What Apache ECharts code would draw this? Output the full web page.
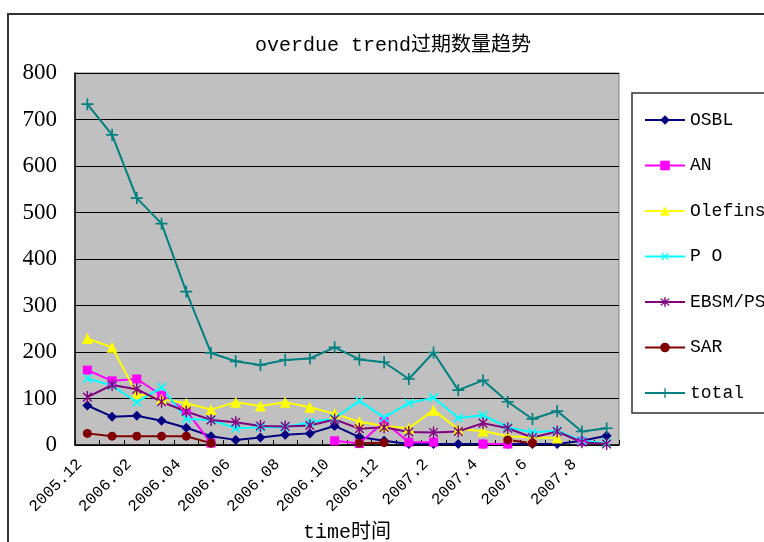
<!DOCTYPE html>
<html>
<head>
<meta charset="UTF-8">
<title>overdue trend</title>
<script src="https://cdn.jsdelivr.net/npm/echarts@6/dist/echarts.min.js"></script>
</head>
<body style="margin:0;background:#fff">
<div id="main" style="width:764px;height:542px;"></div>
<script>
// 月份
var months = ['2005.12','2006.01','2006.02','2006.03','2006.04','2006.05','2006.06','2006.07','2006.08','2006.09','2006.10','2006.11','2006.12',
  '2007.1','2007.2','2007.3','2007.4','2007.5','2007.6','2007.7','2007.8','2007.9'];
// 各装置数据 (null = 无数据)
var osbl    = [85, 61, 63, 52, 37, 19, 11, 16, 22, 25, 41, 17, 9, 2, 2, 2, 2, 2, 2, 2, 9, 20];
var an      = [161, 138, 142, 107, 74, 4, null, null, null, null, 9, 3, 50, 6, 6, null, 2, 2, null, null, 8, null];
var olefins = [229, 210, 110, 99, 90, 76, 92, 84, 92, 81, 67, 50, 41, 36, 75, 34, 30, 19, 16, 15, null, null];
var po      = [143, 128, 92, 124, 56, 54, 36, 38, 38, 49, 57, 95, 59, 90, 102, 58, 64, 38, 27, 31, 9, 4];
var ebsm    = [103, 129, 120, 93, 72, 54, 49, 41, 40, 42, 55, 35, 38, 28, 27, 29, 47, 36, 16, 29, 6, 2];
var sar     = [25, 19, 19, 19, 19, 4, null, null, null, null, null, 4, 5, null, null, null, null, 11, 4, null, null, null];
var total   = [733, 667, 531, 476, 330, 198, 180, 172, 183, 186, 210, 184, 178, 142, 199, 118, 139, 93, 56, 73, 29, 36];
var yTicks  = [0, 800, 100];

var monoFont = 'Liberation Mono, Noto Sans CJK SC';
var plusPath = 'path://M-0.7,-5H0.7V-0.7H5V0.7H0.7V5H-0.7V0.7H-5V-0.7H-0.7Z';
var starPath = 'path://M-0.6,-5H0.6V5H-0.6Z M-4,-3.2L-3.2,-4L4,3.2L3.2,4Z M3.2,-4L4,-3.2L-3.2,4L-4,3.2Z';

function mkLine(name, data, color, symbol, size, rotate) {
  return {
    name: name,
    type: 'line',
    data: data,
    symbol: symbol,
    symbolSize: size,
    symbolRotate: rotate || 0,
    symbolKeepAspect: true,
    showAllSymbol: true,
    connectNulls: false,
    lineStyle: { color: color, width: 2 },
    itemStyle: { color: color, borderColor: color, borderWidth: 0 },
    emphasis: { disabled: true },
    animation: false
  };
}

var myChart = echarts.init(document.getElementById('main'));
var option = {
  animation: false,
  title: {
    text: 'overdue trend过期数量趋势',
    left: 250,
    top: 31,
    textStyle: { fontFamily: monoFont, fontSize: 20, fontWeight: 'normal', color: '#000' }
  },
  graphic: [
    { type: 'rect', shape: { x: 8, y: 14, width: 800, height: 600 }, style: { fill: 'none', stroke: '#333', lineWidth: 2 }, z: -1 },
    { type: 'rect', shape: { x: 632, y: 93, width: 200, height: 320 }, style: { fill: '#fff', stroke: '#333', lineWidth: 1.5 }, z: 0 }
  ],
  legend: {
    orient: 'vertical',
    left: 639,
    top: 106,
    itemWidth: 40,
    itemHeight: 12,
    itemGap: 27.5,
    textStyle: { fontFamily: monoFont, fontSize: 18, color: '#000' },
    z: 5
  },
  grid: {
    left: 75, top: 73, width: 544, height: 372,
    outerBoundsMode: 'none',
    containLabel: false,
    show: true, backgroundColor: '#C0C0C0', borderColor: '#808080', borderWidth: 1
  },
  xAxis: {
    type: 'category',
    data: months,
    boundaryGap: true,
    name: 'time时间',
    nameLocation: 'middle',
    nameGap: 78,
    nameTextStyle: { fontFamily: monoFont, fontSize: 20, color: '#000' },
    axisLine: { lineStyle: { color: '#000', width: 1.5 } },
    axisTick: { show: true, inside: true, length: 5, interval: 0, lineStyle: { color: '#000' } },
    axisLabel: { interval: 1, rotate: 45, margin: 9, padding: [0, 11, 0, 0], fontFamily: monoFont, fontSize: 16, color: '#000' }
  },
  yAxis: {
    type: 'value',
    min: yTicks[0], max: yTicks[1], interval: yTicks[2],
    axisLine: { show: true, lineStyle: { color: '#000', width: 1.5 } },
    axisTick: { show: true, inside: true, length: 6, lineStyle: { color: '#000' } },
    splitLine: { show: true, lineStyle: { color: '#000', width: 1 } },
    axisLabel: { margin: 18, padding: [7, 0, 0, 0], fontFamily: 'Liberation Serif', fontSize: 23, color: '#000' }
  },
  series: [
    mkLine('OSBL', osbl, '#000080', 'diamond', 10),
    mkLine('AN', an, '#FF00FF', 'rect', 9),
    mkLine('Olefins', olefins, '#FFFF00', 'triangle', 11),
    mkLine('P O', po, '#00FFFF', plusPath, 12, 45),
    mkLine('EBSM/PS', ebsm, '#800080', starPath, 12),
    mkLine('SAR', sar, '#800000', 'circle', 9),
    mkLine('total', total, '#008080', plusPath, 12)
  ]
};
myChart.setOption(option);
</script>
</body>
</html>
